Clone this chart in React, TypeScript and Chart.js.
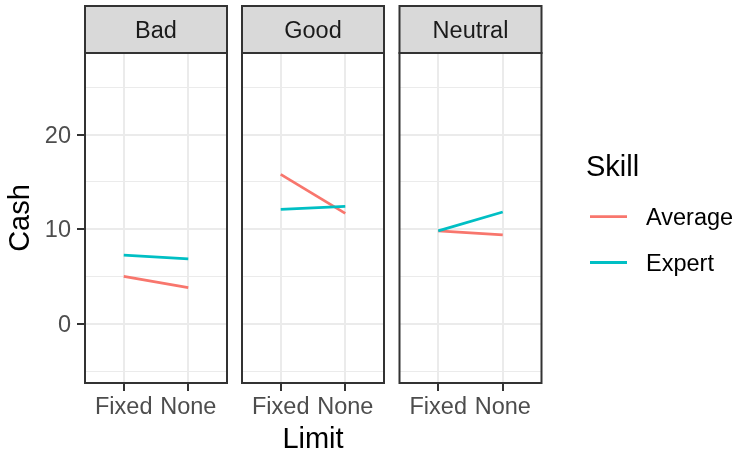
import React, { useEffect, useRef } from 'react';
import { Chart, registerables } from 'chart.js';

Chart.register(...registerables);

// ---- data ----
const limitLabels = ['Fixed', 'None'];
const skillLabels = ['Average', 'Expert'];
const skillColors = ['#F8766D', '#00BFC4'];
const facetLabels = ['Bad', 'Good', 'Neutral'];
const badAverage = [5.04, 3.87];
const badExpert = [7.29, 6.9];
const goodAverage = [15.8, 11.69];
const goodExpert = [12.11, 12.43];
const neutralAverage = [9.85, 9.43];
const neutralExpert = [9.85, 11.83];
const yMajorTicks = [0, 10, 20];
const yRange = [-6.2, 28.6];
const xRange = [0.4, 2.6];
const xTitle = 'Limit';
const yTitle = 'Cash';
const legendTitle = 'Skill';

const FONT = "'Liberation Sans', Arial, Helvetica, sans-serif";
const SMALL = 23.5;
const BIG = 29;
const STRIP_H = 47;

const decorPlugin = {
  id: 'facetDecor',
  afterDatasetsDraw(chart: any, _args: any, opts: any) {
    const { ctx, chartArea: a } = chart;
    ctx.save();
    ctx.strokeStyle = '#333333';
    ctx.lineWidth = 2;
    ctx.strokeRect(a.left, a.top, a.right - a.left, a.bottom - a.top);
    ctx.fillStyle = '#D9D9D9';
    ctx.fillRect(a.left, a.top - STRIP_H, a.right - a.left, STRIP_H);
    ctx.strokeRect(a.left, a.top - STRIP_H, a.right - a.left, STRIP_H);
    ctx.fillStyle = '#1A1A1A';
    ctx.font = `${SMALL}px ${FONT}`;
    ctx.textAlign = 'center';
    ctx.textBaseline = 'middle';
    ctx.fillText(opts.label, (a.left + a.right) / 2, a.top - STRIP_H / 2 + 1.8);
    if (opts.legend) {
      const x0 = a.right;
      ctx.textAlign = 'left';
      ctx.fillStyle = '#000000';
      ctx.font = `${BIG}px ${FONT}`;
      ctx.fillText(legendTitle, x0 + 44.5, 167.5);
      ctx.font = `${SMALL}px ${FONT}`;
      const ys = [216.7, 262.5];
      chart.data.datasets.forEach((ds: any, i: number) => {
        ctx.strokeStyle = ds.borderColor;
        ctx.lineWidth = 2.8;
        ctx.beginPath();
        ctx.moveTo(x0 + 48.5, ys[i]);
        ctx.lineTo(x0 + 85.5, ys[i]);
        ctx.stroke();
        ctx.fillStyle = '#000000';
        ctx.fillText(ds.label, x0 + 104.5, ys[i] + 1.8);
      });
    }
    ctx.restore();
  },
};

type PanelProps = {
  facet: string;
  average: number[];
  expert: number[];
  left: number;
  width: number;
  yWidth: number;
  padRight: number;
  showY: boolean;
  showXTitle: boolean;
  showLegend: boolean;
};

function Panel(p: PanelProps) {
  const ref = useRef<HTMLCanvasElement | null>(null);
  useEffect(() => {
    if (!ref.current) return;
    const series = [p.average, p.expert];
    const chart = new Chart(ref.current, {
      type: 'line',
      data: {
        datasets: skillLabels.map((s, si) => ({
          label: s,
          data: series[si].map((y, i) => ({ x: i + 1, y })),
          borderColor: skillColors[si],
          backgroundColor: skillColors[si],
          borderWidth: 2.8,
          pointRadius: 0,
          tension: 0,
          fill: false,
          order: si === 0 ? 1 : 0,
        })),
      },
      options: {
        responsive: false,
        animation: false,
        devicePixelRatio: 1,
        events: [],
        layout: { padding: { left: 0, right: p.padRight, top: 53, bottom: 0 } },
        plugins: {
          legend: { display: false },
          tooltip: { enabled: false },
          facetDecor: { label: p.facet, legend: p.showLegend },
        } as any,
        scales: {
          x: {
            type: 'linear',
            min: xRange[0],
            max: xRange[1],
            afterFit: (s: any) => { s.height = 69; },
            border: { display: false },
            grid: {
              color: '#EBEBEB',
              lineWidth: 2,
              tickColor: '#333333',
              tickWidth: 2,
              tickLength: 8,
              drawTicks: true,
            },
            ticks: {
              stepSize: 1,
              includeBounds: false,
              autoSkip: false,
              maxRotation: 0,
              padding: 2,
              color: '#4D4D4D',
              font: { family: FONT, size: SMALL },
              callback: (v: any) => limitLabels[Number(v) - 1] ?? '',
            },
            title: {
              display: p.showXTitle,
              text: xTitle,
              color: '#000000',
              font: { family: FONT, size: BIG, lineHeight: 1 },
              padding: { top: 0, bottom: -2 },
            },
          },
          y: {
            type: 'linear',
            min: yRange[0],
            max: yRange[1],
            afterFit: (s: any) => { s.width = p.yWidth; },
            border: { display: false },
            grid: {
              color: '#EBEBEB',
              lineWidth: (c: any) => (c.tick && yMajorTicks.includes(c.tick.value) ? 2 : 1),
              tickColor: (c: any) => (c.tick && yMajorTicks.includes(c.tick.value) ? '#333333' : 'rgba(0,0,0,0)'),
              tickWidth: 2,
              tickLength: 8,
              drawTicks: p.showY,
            },
            ticks: {
              display: p.showY,
              stepSize: 5,
              includeBounds: false,
              autoSkip: false,
              padding: 6,
              labelOffset: 1.5,
              color: '#4D4D4D',
              font: { family: FONT, size: SMALL },
              callback: (v: any) => (yMajorTicks.includes(Number(v)) ? String(v) : ''),
            },
            title: {
              display: p.showY,
              text: yTitle,
              color: '#000000',
              font: { family: FONT, size: BIG, lineHeight: 1 },
              padding: { top: 6, bottom: 0 },
            },
          },
        },
      },
      plugins: [decorPlugin],
    } as any);
    return () => chart.destroy();
  }, []);
  return (
    <canvas
      ref={ref}
      width={p.width}
      height={452}
      style={{ position: 'absolute', left: p.left, top: 0, width: p.width, height: 452 }}
    />
  );
}

export default function App() {
  return (
    <div style={{ position: 'absolute', left: 0, top: 0, width: 735, height: 452, background: '#FFFFFF', overflow: 'hidden' }}>
      <Panel facet={facetLabels[0]} average={badAverage} expert={badExpert}
        left={0} width={229} yWidth={85} padRight={2} showY={true} showXTitle={false} showLegend={false} />
      <Panel facet={facetLabels[1]} average={goodAverage} expert={goodExpert}
        left={240} width={146} yWidth={2} padRight={2} showY={false} showXTitle={true} showLegend={false} />
      <Panel facet={facetLabels[2]} average={neutralAverage} expert={neutralExpert}
        left={397} width={338} yWidth={2.5} padRight={193.5} showY={false} showXTitle={false} showLegend={true} />
    </div>
  );
}
